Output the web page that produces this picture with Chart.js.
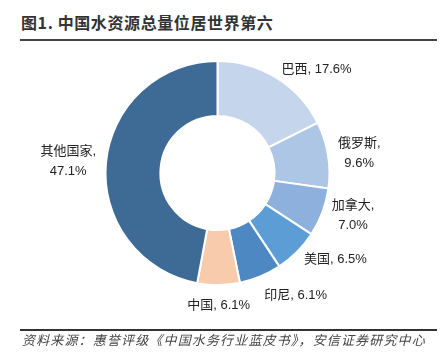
<!DOCTYPE html>
<html>
<head>
<meta charset="utf-8">
<script src="https://cdn.jsdelivr.net/npm/chart.js@4.4.1/dist/chart.umd.min.js"></script>
<style>
	body { margin: 0; width: 445px; height: 360px; position: relative; background: #fff; overflow: hidden; }
	#title { position: absolute; left: 21px; top: 10px; line-height: 20px; font: bold 16px "Noto Sans CJK SC", sans-serif; letter-spacing: 0.6px; color: #333; white-space: nowrap; }
	#titleRule { position: absolute; left: 20px; top: 39px; width: 417px; height: 2px; background: #444; }
	#footRule { position: absolute; left: 20px; top: 329px; width: 417px; height: 1.5px; background: #333; }
	#source { position: absolute; left: 22px; top: 330px; line-height: 16px; font: italic 13px "Noto Sans CJK SC", sans-serif; letter-spacing: 1.15px; color: #444; white-space: nowrap; }
	#chart_one { position: absolute; left: 0; top: 0; }
</style>
</head>
<body>
<div id="title">图1. 中国水资源总量位居世界第六</div>
<div id="titleRule"></div>
<canvas id="chart_one" width="445" height="360"></canvas>
<div id="footRule"></div>
<div id="source">资料来源：惠誉评级《中国水务行业蓝皮书》，安信证券研究中心</div>
<script>
// share of world water resources, %
var countries = ["巴西", "俄罗斯", "加拿大", "美国", "印尼", "中国", "其他国家"];
var shares = [17.6, 9.6, 7.0, 6.5, 6.1, 6.1, 47.1];
var sliceColors = ["#c5d6ec", "#adc6e5", "#8db0dd", "#5c9dd5", "#4d88c2", "#f7cbab", "#3e6a96"];

// labels outside the ring, "name, value%" (long names wrap)
var outLabels = {
	id: "outLabels",
	afterDatasetsDraw: function(chart) {
		var ctx = chart.ctx;
		var meta = chart.getDatasetMeta(0);
		ctx.save();
		ctx.font = '13px "Liberation Sans", "Noto Sans CJK SC"';
		ctx.fillStyle = "#222";
		ctx.textAlign = "center";
		ctx.textBaseline = "middle";
		var lh = 20;
		meta.data.forEach(function(arc, i) {
			var p = arc.getProps(["x", "y", "startAngle", "endAngle", "outerRadius"]);
			var mid = (p.startAngle + p.endAngle) / 2;
			var r = p.outerRadius + 10;
			var cx = Math.cos(mid), sy = Math.sin(mid);
			var ax = p.x + cx * r, ay = p.y + sy * r;
			var val = shares[i].toFixed(1) + "%";
			var lines = countries[i].length >= 3 ? [countries[i] + ",", val] : [countries[i] + ", " + val];
			var w = Math.max.apply(null, lines.map(function(l) { return ctx.measureText(l).width; }));
			var h = lines.length * lh;
			var left;
			if (cx > 0.3) left = ax;
			else if (cx < -0.3) left = ax - w;
			else left = ax - w / 2;
			var top;
			if (Math.abs(sy) > 0.9) top = sy > 0 ? ay : ay - h;
			else top = ay - h / 2;
			lines.forEach(function(l, k) {
				ctx.fillText(l, left + w / 2, top + lh / 2 + k * lh);
			});
		});
		ctx.restore();
	}
};

var ctx_one = document.getElementById("chart_one").getContext("2d");
var chart_one = new Chart(ctx_one, {
	type: "doughnut",
	data: {
		labels: countries,
		datasets: [
			{
				data: shares,
				backgroundColor: sliceColors,
				borderColor: "#ffffff",
				borderWidth: 2,
				hoverOffset: 0
			}
		]
	},
	options: {
		responsive: false,
		animation: false,
		cutout: "51%",
		layout: { padding: { left: 104, right: 114, top: 60, bottom: 74 } },
		plugins: {
			legend: { display: false },
			tooltip: { enabled: false }
		}
	},
	plugins: [outLabels]
});
</script>
</body>
</html>
